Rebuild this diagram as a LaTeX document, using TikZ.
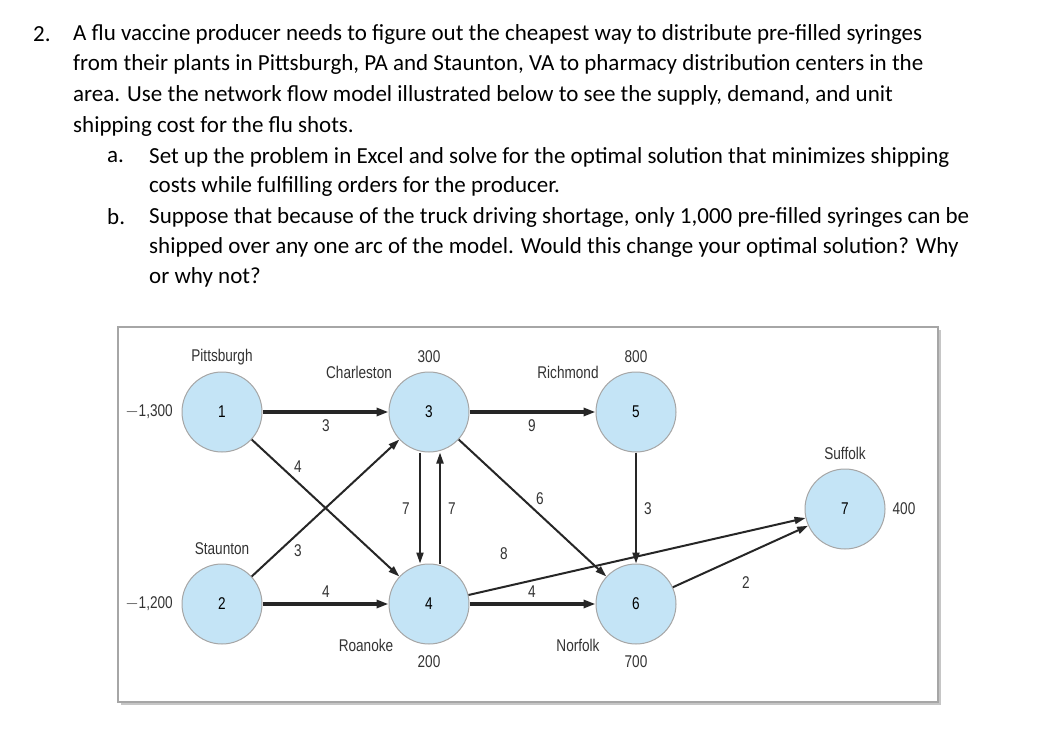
\documentclass[tikz,border=0pt]{standalone}
\usepackage{fontspec}
\setmainfont{Carlito}
\newfontfamily\dfont{Liberation Sans}[FakeStretch=0.8]
\usetikzlibrary{arrows.meta}
\definecolor{nodefill}{HTML}{C4E4F6}
\begin{document}
\begin{tikzpicture}[x=1pt,y=-1pt,
  txt/.style={anchor=west,inner sep=0,font=\fontsize{23}{27}\selectfont},
  stn/.style={circle,draw=gray!70,line width=1pt,fill=nodefill,minimum size=80pt,inner sep=0,font=\dfont\fontsize{17}{19}\selectfont},
  lab/.style={inner sep=0,font=\dfont\fontsize{17}{19}\selectfont,text=black!80},
  thick arc/.style={-{Triangle[length=12pt,width=8pt]},line width=3.6pt,black!85},
  thin arc/.style={-{Triangle[length=11pt,width=7pt]},line width=2pt,black!85}]
\useasboundingbox (0,0) rectangle (1064,746);
\node[txt] (n2) at (33,34) {2.};
\node[txt] (l1) at (73,34) {A flu vaccine producer needs to figure out the cheapest way to distribute pre-filled syringes};
\node[txt] (l2) at (73,64) {from their plants in Pittsburgh, PA and Staunton, VA to pharmacy distribution centers in the};
\node[txt] (l3) at (73,95) {area. Use the network flow model illustrated below to see the supply, demand, and unit};
\node[txt] (l4) at (73,126) {shipping cost for the flu shots.};
\node[txt] (na) at (107,157) {a.};
\node[txt] (a1) at (149,157) {Set up the problem in Excel and solve for the optimal solution that minimizes shipping};
\node[txt] (a2) at (149,186) {costs while fulfilling orders for the producer.};
\node[txt] (nb) at (107,217) {b.};
\node[txt] (b1) at (149,217) {Suppose that because of the truck driving shortage, only 1,000 pre-filled syringes can be};
\node[txt] (b2) at (149,247) {shipped over any one arc of the model. Would this change your optimal solution? Why};
\node[txt] (b3) at (149,277) {or why not?};
% frame
\fill[gray!45] (121,330) rectangle (941,705);
\draw[gray!70,line width=1.5pt,fill=white] (118,327) rectangle (938,702);
% nodes
\node[stn] (s1) at (222,412) {1};
\node[stn] (s3) at (429,412) {3};
\node[stn] (s5) at (636,412) {5};
\node[stn] (s2) at (222,604) {2};
\node[stn] (s4) at (429,604) {4};
\node[stn] (s6) at (636,604) {6};
\node[stn] (s7) at (845,509) {7};
% labels
\node[lab] (t1) at (222,357) {Pittsburgh};
\node[lab] (t3) at (359,372) {Charleston};
\node[lab] (d3) at (429,357) {300};
\node[lab] (t5) at (568,372) {Richmond};
\node[lab] (d5) at (636,357) {800};
\node[lab] (t7) at (845,453) {Suffolk};
\node[lab] (d7) at (904,509) {400};
\node[lab] (d1) at (149,412) {$-$1,300};
\node[lab] (d2) at (149,604) {$-$1,200};
\node[lab] (t2) at (222,549) {Staunton};
\node[lab] (t4) at (366,645) {Roanoke};
\node[lab] (d4) at (429,662) {200};
\node[lab] (t6) at (578,645) {Norfolk};
\node[lab] (d6) at (636,662) {700};
% arcs
\draw[thick arc] (s1) -- (s3);
\draw[thick arc] (s3) -- (s5);
\draw[thick arc] (s2) -- (s4);
\draw[thick arc] (s4) -- (s6);
\draw[thin arc] (s1) -- (s4);
\draw[thin arc] (s2) -- (s3);
\draw[thin arc] ([xshift=-9pt]s3.south) -- ([xshift=-9pt]s4.north);
\draw[thin arc] ([xshift=11pt]s4.north) -- ([xshift=11pt]s3.south);
\draw[thin arc] (s3) -- (s6);
\draw[thin arc] (s5) -- (s6);
\draw[thin arc] (s4) -- (s7);
\draw[thin arc] (s6) -- (s7);
% costs
\node[lab] at (326,426) {3};
\node[lab] at (532,426) {9};
\node[lab] at (298,467) {4};
\node[lab] at (298,551) {3};
\node[lab] at (406,509) {7};
\node[lab] at (452,509) {7};
\node[lab] at (540,499) {6};
\node[lab] at (648,509) {3};
\node[lab] at (504,554) {8};
\node[lab] at (326,592) {4};
\node[lab] at (532,592) {4};
\node[lab] at (746,583) {2};
\end{tikzpicture}
\end{document}
